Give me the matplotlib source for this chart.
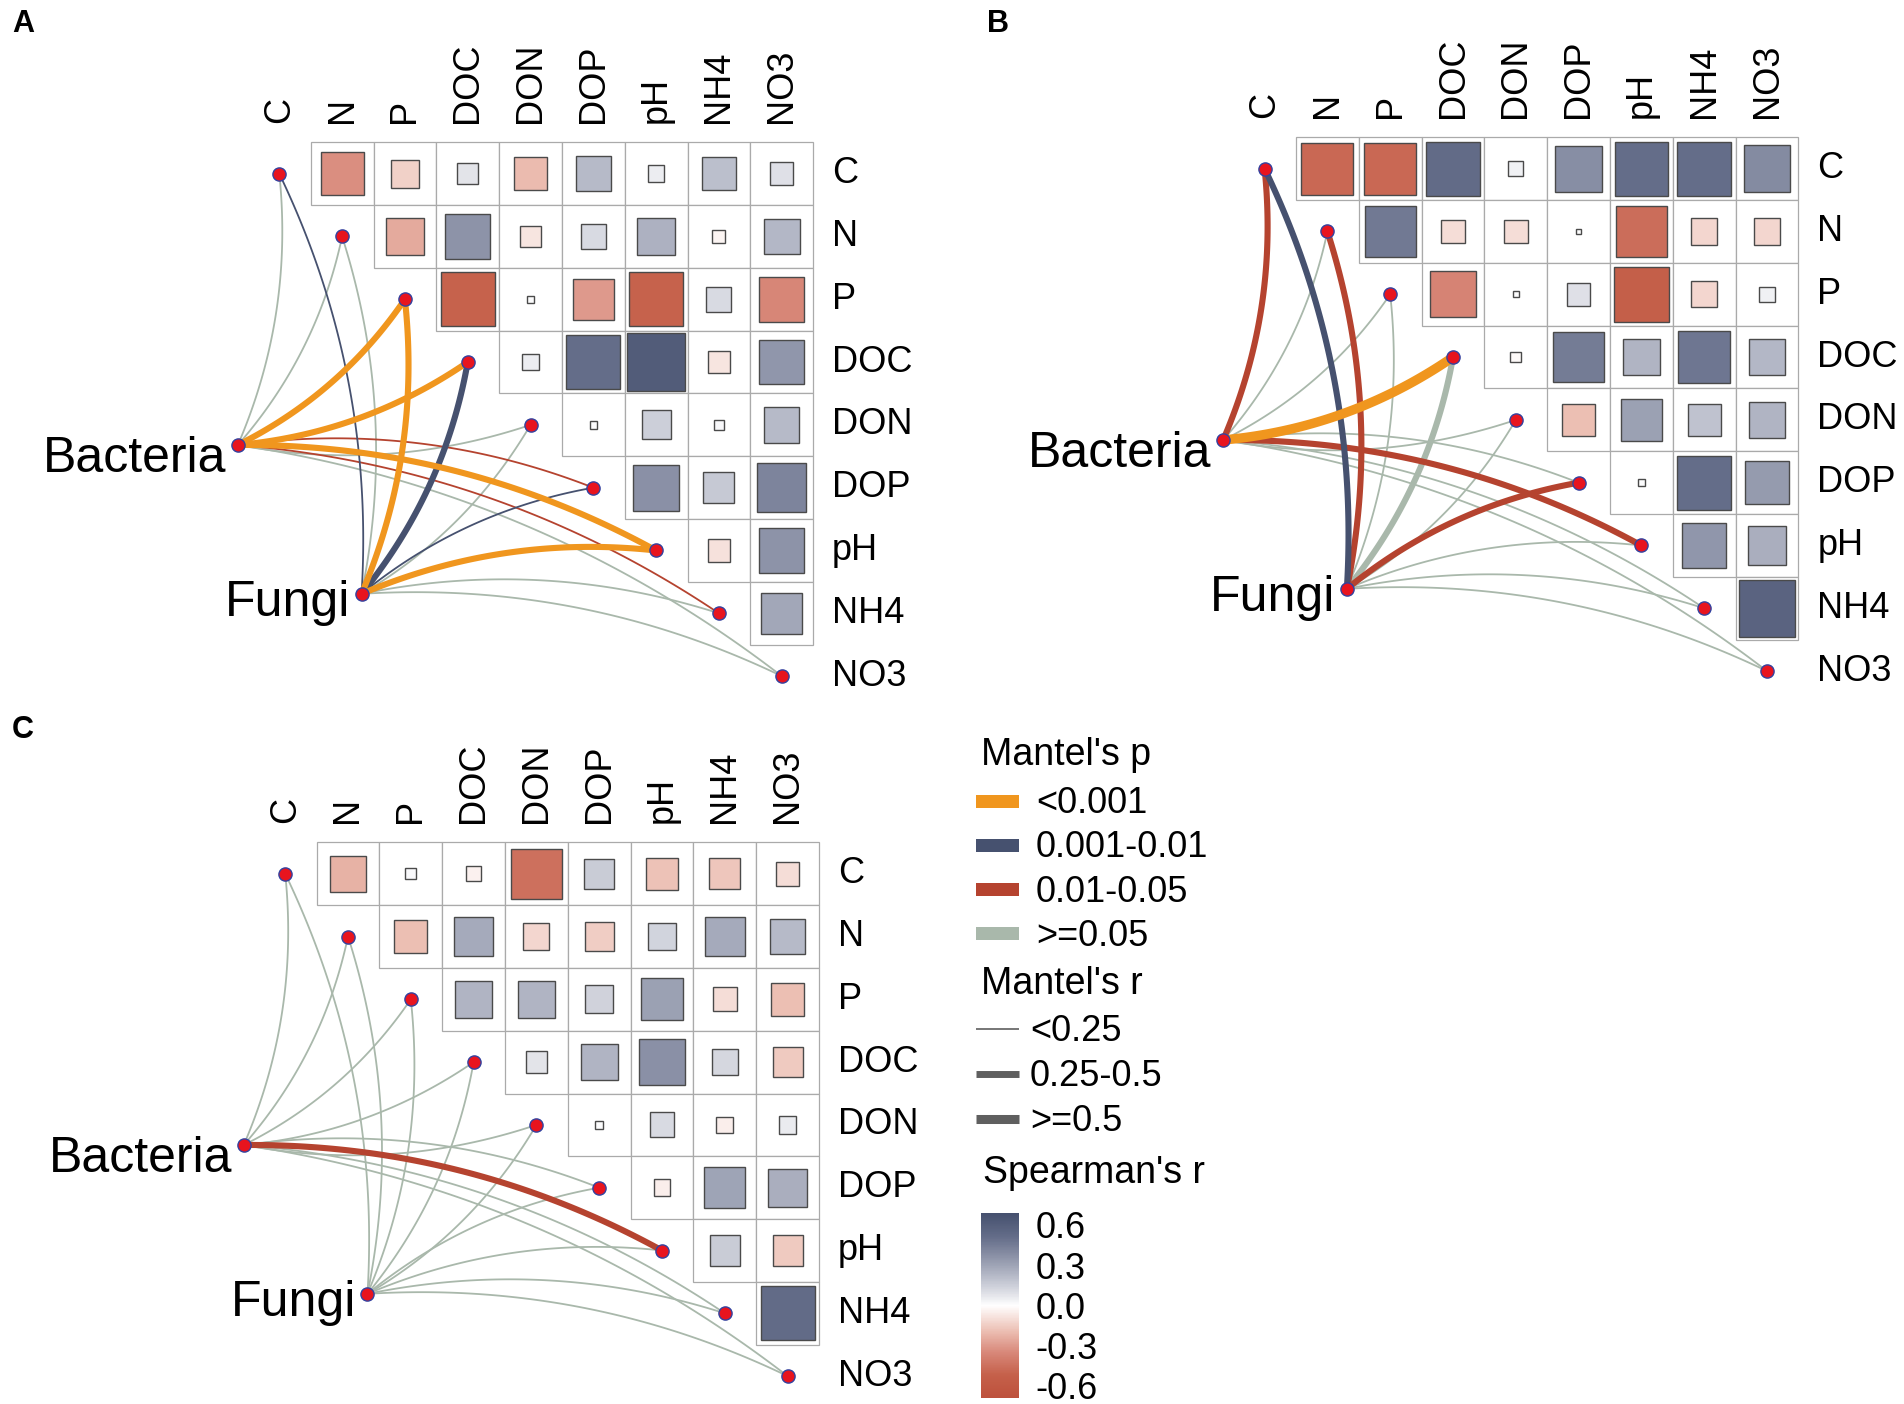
import numpy as np
import matplotlib
matplotlib.use("Agg")
import matplotlib.pyplot as plt
from matplotlib.colors import LinearSegmentedColormap, Normalize
from matplotlib.patches import Rectangle
from matplotlib.cm import ScalarMappable
from matplotlib.ticker import FormatStrFormatter

plt.rcParams['font.family'] = ['Liberation Sans', 'DejaVu Sans']
plt.rcParams['axes.unicode_minus'] = False

# ---------------- data ----------------
env_vars = ["C", "N", "P", "DOC", "DON", "DOP", "pH", "NH4", "NO3"]
species = ["Bacteria", "Fungi"]

# Spearman's r (upper triangle, row by row: row C -> cols N..NO3, etc.)
spearman_A = [
    [-0.33, -0.14, 0.08, -0.20, 0.22, 0.05, 0.20, 0.09],
    [-0.25, 0.36, -0.08, 0.11, 0.25, -0.03, 0.23],
    [-0.51, 0.01, -0.30, -0.51, 0.11, -0.36],
    [0.05, 0.51, 0.61, -0.08, 0.35],
    [0.01, 0.15, 0.02, 0.22],
    [0.37, 0.17, 0.42],
    [-0.09, 0.36],
    [0.29],
]
spearman_B = [
    [-0.48, -0.48, 0.52, 0.04, 0.38, 0.51, 0.51, 0.39],
    [0.46, -0.10, -0.10, 0.005, -0.46, -0.12, -0.12],
    [-0.37, 0.007, 0.09, -0.53, -0.12, 0.04],
    [-0.02, 0.45, 0.24, 0.47, 0.23],
    [-0.19, 0.31, 0.19, 0.24],
    [0.01, 0.51, 0.33],
    [0.35, 0.26],
    [0.57],
]
spearman_C = [
    [-0.23, 0.02, -0.04, -0.45, 0.16, -0.18, -0.17, -0.10],
    [-0.19, 0.28, -0.12, -0.15, 0.13, 0.28, 0.22],
    [0.24, 0.24, 0.14, 0.31, -0.10, -0.19],
    [0.08, 0.24, 0.37, 0.12, -0.16],
    [0.01, 0.11, -0.05, 0.055],
    [-0.05, 0.30, 0.26],
    [0.16, -0.16],
    [0.52],
]

# Mantel test classes per species, per env variable (order of env_vars)
p_labels = ["<0.001", "0.001-0.01", "0.01-0.05", ">=0.05"]
r_labels = ["<0.25", "0.25-0.5", ">=0.5"]

mantel_p_A = {"Bacteria": [3, 3, 0, 0, 3, 2, 0, 2, 3],
              "Fungi":    [1, 3, 0, 1, 3, 1, 0, 3, 3]}
mantel_r_A = {"Bacteria": [0, 0, 1, 1, 0, 0, 1, 0, 0],
              "Fungi":    [0, 0, 1, 1, 0, 0, 1, 0, 0]}
mantel_p_B = {"Bacteria": [2, 3, 3, 0, 3, 3, 2, 3, 3],
              "Fungi":    [1, 2, 3, 3, 3, 2, 3, 3, 3]}
mantel_r_B = {"Bacteria": [1, 0, 0, 2, 0, 0, 1, 0, 0],
              "Fungi":    [1, 1, 0, 1, 0, 1, 0, 0, 0]}
mantel_p_C = {"Bacteria": [3, 3, 3, 3, 3, 3, 2, 3, 3],
              "Fungi":    [3, 3, 3, 3, 3, 3, 3, 3, 3]}
mantel_r_C = {"Bacteria": [0, 0, 0, 0, 0, 0, 1, 0, 0],
              "Fungi":    [0, 0, 0, 0, 0, 0, 0, 0, 0]}

# ---------------- styling ----------------
W, H = 1904, 1404
CELL = 62.8
p_colors = ["#F0961E", "#46516F", "#B5432F", "#A9B8AB"]
r_widths = [1.3, 4.4, 6.8]
legend_r_widths = [1.2, 5.0, 6.5]
VLIM = 0.69
anchors = [(-0.69, '#bd513c'), (-0.52, '#c5604a'), (-0.35, '#d8887a'),
           (-0.20, '#ebbcb0'), (0.0, '#ffffff'), (0.08, '#e2e3e9'),
           (0.22, '#b6bac8'), (0.36, '#8d93a8'), (0.51, '#646d89'),
           (0.69, '#45506e')]
cmap = LinearSegmentedColormap.from_list(
    "rb", [((v + VLIM) / (2 * VLIM), c) for v, c in anchors])
norm = Normalize(-VLIM, VLIM)

species_pos = {"Bacteria": (-0.66, 4.32), "Fungi": (1.31, 6.69)}
label_offsets = {"Bacteria": (-0.18, 0.43), "Fungi": (-0.18, 0.35)}

fig = plt.figure(figsize=(W / 100, H / 100), dpi=100)


def bezier(p0, p1, right, sag=0.065, n=80):
    p0 = np.asarray(p0, float)
    p1 = np.asarray(p1, float)
    d = p1 - p0
    L = np.hypot(*d)
    if right:
        nrm = np.array([-d[1], d[0]]) / L
    else:
        nrm = np.array([d[1], -d[0]]) / L
    c = (p0 + p1) / 2 + nrm * 2 * sag * L
    t = np.linspace(0, 1, n)[:, None]
    pts = (1 - t) ** 2 * p0 + 2 * (1 - t) * t * c + t ** 2 * p1
    return pts[:, 0], pts[:, 1]


def draw_panel(ox, oy, spearman, mp, mr):
    x0, x1, y0, y1 = -4.2, 10.2, -2.4, 9.2
    left = ox + x0 * CELL
    right = ox + x1 * CELL
    top = oy + y0 * CELL
    bottom = oy + y1 * CELL
    ax = fig.add_axes([left / W, 1 - bottom / H, (right - left) / W, (bottom - top) / H])
    ax.set_xlim(x0, x1)
    ax.set_ylim(y1, y0)
    ax.set_aspect('equal')
    ax.axis('off')
    n = len(env_vars)
    # grid + squares
    for i, row in enumerate(spearman):
        for k, r in enumerate(row):
            j = i + 1 + k
            ax.add_patch(Rectangle((j - 0.5, i - 0.5), 1, 1, facecolor='white',
                                   edgecolor='#aaaaaa', lw=0.9, zorder=1))
            f = min(np.sqrt(abs(r) / 0.7), 0.95)
            ax.add_patch(Rectangle((j - f / 2, i - f / 2), f, f,
                                   facecolor=cmap(norm(r)), edgecolor='#4a4a4a',
                                   lw=1.0, zorder=2))
    # labels
    for i, name in enumerate(env_vars):
        ax.text(i, -0.5 - 0.3, name, rotation=90, ha='center', va='bottom',
                fontsize=26, color='black')
        ax.text(n - 0.5 + 0.3, i, name, ha='left', va='center',
                fontsize=26, color='black')
    # edges: draw non-significant first
    edges = []
    for sp in species:
        for e, name in enumerate(env_vars):
            edges.append((mp[sp][e], sp, e, mr[sp][e]))
    edges.sort(key=lambda t: -t[0])
    for pc, sp, e, rc in edges:
        sx, sy = species_pos[sp]
        xs, ys = bezier((sx, sy), (e, e), right=(e <= 4))
        ax.plot(xs, ys, color=p_colors[pc], lw=r_widths[rc],
                solid_capstyle='butt', zorder=3, clip_on=False)
    # nodes
    for e in range(n):
        ax.plot(e, e, 'o', ms=9.5, mfc='#E8141E', mec='#3342A0', mew=1.0,
                zorder=5, clip_on=False)
    for sp in species:
        sx, sy = species_pos[sp]
        ax.plot(sx, sy, 'o', ms=9.5, mfc='#E8141E', mec='#3342A0', mew=1.0,
                zorder=5, clip_on=False)
        dx, dy = label_offsets[sp]
        ax.text(sx + dx, sy + dy, sp, ha='right', va='baseline', fontsize=36,
                color='black')
    return ax


draw_panel(279.3, 173.7, spearman_A, mantel_p_A, mantel_r_A)
draw_panel(1264.6, 168.7, spearman_B, mantel_p_B, mantel_r_B)
draw_panel(285.2, 873.7, spearman_C, mantel_p_C, mantel_r_C)

# panel letters
for letter, (px, py) in {"A": (12, 24), "B": (987, 24), "C": (12, 730)}.items():
    fig.text(px / W, 1 - py / H, letter, fontsize=22, fontweight='bold',
             ha='left', va='center')

# ---------------- legend ----------------
lax = fig.add_axes([0, 0, 1, 1])
lax.set_xlim(0, W)
lax.set_ylim(H, 0)
lax.axis('off')

lax.text(981, 765, "Mantel's p", fontsize=27, ha='left', va='baseline')
for k, lab in enumerate(p_labels):
    yc = 801 + k * 44.3
    lax.add_patch(Rectangle((976, yc - 6.5), 43, 13, facecolor=p_colors[k],
                            edgecolor='none'))
    lax.text(1036, yc + 12, lab, fontsize=26, ha='left', va='baseline')

lax.text(981, 994, "Mantel's r", fontsize=27, ha='left', va='baseline')
for k, lab in enumerate(r_labels):
    yc = 1029 + k * 45
    lax.plot([976, 1019], [yc, yc], color='#5f5f5f', lw=legend_r_widths[k],
             solid_capstyle='butt')
    lax.text(1030, yc + 12, lab, fontsize=26, ha='left', va='baseline')

lax.text(983, 1183, "Spearman's r", fontsize=27, ha='left', va='baseline')

cax = fig.add_axes([981 / W, 1 - 1398 / H, 38 / W, (1398 - 1212.7) / H])
sm = ScalarMappable(norm=norm, cmap=cmap)
cb = fig.colorbar(sm, cax=cax, ticks=[-0.6, -0.3, 0.0, 0.3, 0.6])
cb.outline.set_visible(False)
cb.ax.yaxis.set_major_formatter(FormatStrFormatter('%.1f'))
cb.ax.tick_params(length=0, labelsize=26, pad=12)

fig.savefig("out.png", dpi=100)
